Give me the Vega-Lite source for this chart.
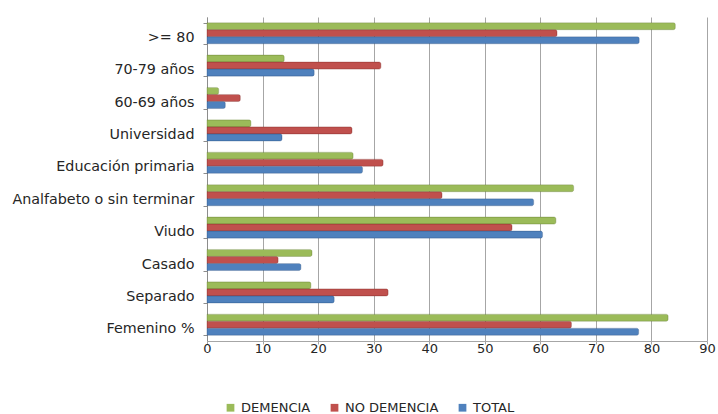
{
  "$schema": "https://vega.github.io/schema/vega-lite/v6.json",
  "width": 500,
  "height": 324,
  "autosize": {"type": "none"},
  "padding": {"left": 207, "top": 17, "right": 11, "bottom": 73},
  "background": "white",
  "config": {"view": {"stroke": null}, "font": "DejaVu Sans"},
  "data": {"values": [
    {"cat": ">= 80", "serie": "DEMENCIA", "v": 84.3},
    {"cat": ">= 80", "serie": "NO DEMENCIA", "v": 63.0},
    {"cat": ">= 80", "serie": "TOTAL", "v": 77.8},
    {"cat": "70-79 años", "serie": "DEMENCIA", "v": 13.9},
    {"cat": "70-79 años", "serie": "NO DEMENCIA", "v": 31.3},
    {"cat": "70-79 años", "serie": "TOTAL", "v": 19.3},
    {"cat": "60-69 años", "serie": "DEMENCIA", "v": 2.1},
    {"cat": "60-69 años", "serie": "NO DEMENCIA", "v": 6.0},
    {"cat": "60-69 años", "serie": "TOTAL", "v": 3.3},
    {"cat": "Universidad", "serie": "DEMENCIA", "v": 7.9},
    {"cat": "Universidad", "serie": "NO DEMENCIA", "v": 26.1},
    {"cat": "Universidad", "serie": "TOTAL", "v": 13.5},
    {"cat": "Educación primaria", "serie": "DEMENCIA", "v": 26.3},
    {"cat": "Educación primaria", "serie": "NO DEMENCIA", "v": 31.7},
    {"cat": "Educación primaria", "serie": "TOTAL", "v": 28.0},
    {"cat": "Analfabeto o sin terminar", "serie": "DEMENCIA", "v": 66.0},
    {"cat": "Analfabeto o sin terminar", "serie": "NO DEMENCIA", "v": 42.3},
    {"cat": "Analfabeto o sin terminar", "serie": "TOTAL", "v": 58.8},
    {"cat": "Viudo", "serie": "DEMENCIA", "v": 62.8},
    {"cat": "Viudo", "serie": "NO DEMENCIA", "v": 54.9},
    {"cat": "Viudo", "serie": "TOTAL", "v": 60.4},
    {"cat": "Casado", "serie": "DEMENCIA", "v": 18.9},
    {"cat": "Casado", "serie": "NO DEMENCIA", "v": 12.8},
    {"cat": "Casado", "serie": "TOTAL", "v": 16.9},
    {"cat": "Separado", "serie": "DEMENCIA", "v": 18.7},
    {"cat": "Separado", "serie": "NO DEMENCIA", "v": 32.6},
    {"cat": "Separado", "serie": "TOTAL", "v": 22.9},
    {"cat": "Femenino %", "serie": "DEMENCIA", "v": 83.0},
    {"cat": "Femenino %", "serie": "NO DEMENCIA", "v": 65.6},
    {"cat": "Femenino %", "serie": "TOTAL", "v": 77.7}
  ]},
  "mark": {"type": "bar", "cornerRadiusEnd": 2, "strokeWidth": 0.6, "strokeOpacity": 0.6},
  "encoding": {
    "y": {
      "field": "cat", "type": "nominal",
      "sort": [">= 80", "70-79 años", "60-69 años", "Universidad", "Educación primaria", "Analfabeto o sin terminar", "Viudo", "Casado", "Separado", "Femenino %"],
      "scale": {"paddingInner": 0.35, "paddingOuter": 0.175},
      "axis": {"title": null, "labelFontSize": 14.3, "labelLimit": 260, "labelColor": "#262626", "labelPadding": 9, "labelOffset": 4, "domainColor": "#8c8c8c", "tickColor": "#8c8c8c", "tickBand": "extent", "tickSize": 4}
    },
    "yOffset": {
      "field": "serie", "type": "nominal",
      "sort": ["DEMENCIA", "NO DEMENCIA", "TOTAL"],
      "scale": {"paddingInner": 0}
    },
    "x": {
      "field": "v", "type": "quantitative",
      "scale": {"domain": [0, 90], "nice": false},
      "axis": {"title": null, "values": [0,10,20,30,40,50,60,70,80,90], "labelFlush": false, "labelFontSize": 13, "labelColor": "#262626", "labelPadding": -2, "gridColor": "#a6a6a6", "gridWidth": 1, "domainColor": "#a6a6a6", "tickColor": "#a6a6a6", "tickSize": 3}
    },
    "color": {
      "field": "serie", "type": "nominal",
      "sort": ["DEMENCIA", "NO DEMENCIA", "TOTAL"],
      "scale": {"range": ["#9BBB59", "#C0504D", "#4F81BD"]},
      "legend": {
        "title": null, "orient": "none", "direction": "horizontal",
        "legendX": 17, "legendY": 384,
        "symbolType": "square", "symbolSize": 60, "symbolStrokeWidth": 0,
        "labelFontSize": 13, "labelColor": "#262626", "columnPadding": 17, "labelOffset": 4
      }
    },
    "stroke": {
      "field": "serie", "type": "nominal",
      "sort": ["DEMENCIA", "NO DEMENCIA", "TOTAL"],
      "scale": {"range": ["#6f8a3c", "#8c3331", "#345d8f"]},
      "legend": null
    }
  }
}
